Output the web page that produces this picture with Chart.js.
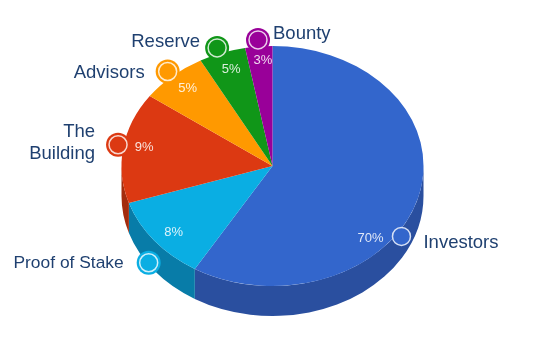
<!DOCTYPE html>
<html>
<head>
<meta charset="utf-8">
<style>
  html, body { margin: 0; padding: 0; background: #fff; }
  canvas { display: block; }
</style>
<script src="https://cdn.jsdelivr.net/npm/chart.js@4"></script>
</head>
<body>
<canvas id="chart" width="553" height="353"></canvas>
<script>
const categories = ['Investors', 'Proof of Stake', 'The Building', 'Advisors', 'Reserve', 'Bounty'];
// the printed percentages don't agree with the drawn slices in the picture, so both are kept
const printedPercents = [70, 8, 9, 5, 5, 3];
const sliceShares = [58.6, 11.4, 14.9, 7.2, 5.0, 2.9];
const topColors = ['#3366cc', '#0aaee3', '#dc3912', '#ff9900', '#109618', '#990099'];
const wallColors = ['#2a4f9f', '#087ca8', '#a32c0e', '#b36b00', '#0b6a11', '#6b006b'];

const squash = 120 / 151;
const depth = 30;

// callout placement per slice: shift from mid angle (deg), radius factor, blob size,
// then name offset/size and percent offset from the callout
const callouts = [
  { shift: 19, r: 1.036, blob: 9.5, name: [22, 7, 'left'], size: 18.5, pct: [-31, 2] },
  { shift: -6, r: 1.15, blob: 12, name: [-25, 0, 'right'], size: 17.4, pct: [25, -30] },
  { shift: 1, r: 1.038, blob: 12, name: [-23, -2, 'right'], size: 18.5, pct: [26, 3] },
  { shift: 0, r: 1.05, blob: 12, name: [-23, 1, 'right'], size: 18.5, pct: [20, 17] },
  { shift: -1, r: 1.05, blob: 12, name: [-17, -6, 'right'], size: 18.5, pct: [14, 21] },
  { shift: 0, r: 1.055, blob: 12, name: [15, -6, 'left'], size: 18.5, pct: [5, 20] }
];
const nameLines = { 'The Building': ['The', 'Building'] };

const pie3d = {
  id: 'pie3d',
  beforeDatasetDraw(chart) {
    const ctx = chart.ctx;
    // side wall, only the front half of the rim shows
    chart.getDatasetMeta(0).data.forEach((arc, i) => {
      const a0 = Math.max(arc.startAngle, 0);
      const a1 = Math.min(arc.endAngle, Math.PI);
      if (a1 <= a0) return;
      const rx = arc.outerRadius, ry = rx * squash;
      ctx.beginPath();
      ctx.ellipse(arc.x, arc.y, rx, ry, 0, a0, a1);
      ctx.ellipse(arc.x, arc.y + depth, rx, ry, 0, a1, a0, true);
      ctx.closePath();
      ctx.fillStyle = wallColors[i];
      ctx.fill();
    });
    const first = chart.getDatasetMeta(0).data[0];
    ctx.save();
    ctx.translate(0, first.y);
    ctx.scale(1, squash);
    ctx.translate(0, -first.y);
  },
  afterDatasetDraw(chart) {
    const ctx = chart.ctx;
    ctx.restore();
    chart.getDatasetMeta(0).data.forEach((arc, i) => {
      const c = callouts[i];
      const mid = (arc.startAngle + arc.endAngle) / 2 + c.shift * Math.PI / 180;
      const x = arc.x + Math.cos(mid) * arc.outerRadius * c.r;
      const y = arc.y + Math.sin(mid) * arc.outerRadius * c.r * squash;

      ctx.beginPath();
      ctx.arc(x, y, c.blob, 0, Math.PI * 2);
      ctx.fillStyle = topColors[i];
      ctx.fill();
      ctx.beginPath();
      ctx.arc(x, y, 9, 0, Math.PI * 2);
      ctx.lineWidth = 1.5;
      ctx.strokeStyle = 'rgba(255,255,255,0.8)';
      ctx.stroke();

      ctx.textBaseline = 'middle';
      ctx.font = c.size + 'px "Liberation Sans", Arial, sans-serif';
      ctx.fillStyle = '#1f4070';
      ctx.textAlign = c.name[2];
      const lines = nameLines[categories[i]] || [categories[i]];
      lines.forEach((line, n) => {
        ctx.fillText(line, x + c.name[0], y + c.name[1] + (n - (lines.length - 1) / 2) * 22);
      });

      ctx.font = '13px "Liberation Sans", Arial, sans-serif';
      ctx.fillStyle = 'rgba(255,255,255,0.85)';
      ctx.textAlign = 'center';
      ctx.fillText(printedPercents[i] + '%', x + c.pct[0], y + c.pct[1]);
    });
  }
};

new Chart(document.getElementById('chart'), {
  type: 'pie',
  data: {
    labels: categories,
    datasets: [{
      data: sliceShares,
      backgroundColor: topColors,
      borderWidth: 0
    }]
  },
  options: {
    responsive: false,
    animation: false,
    layout: { padding: { left: 121.5, right: 129.5, top: 15, bottom: 36 } },
    plugins: { legend: { display: false }, tooltip: { enabled: false } }
  },
  plugins: [pie3d]
});
</script>
</body>
</html>
